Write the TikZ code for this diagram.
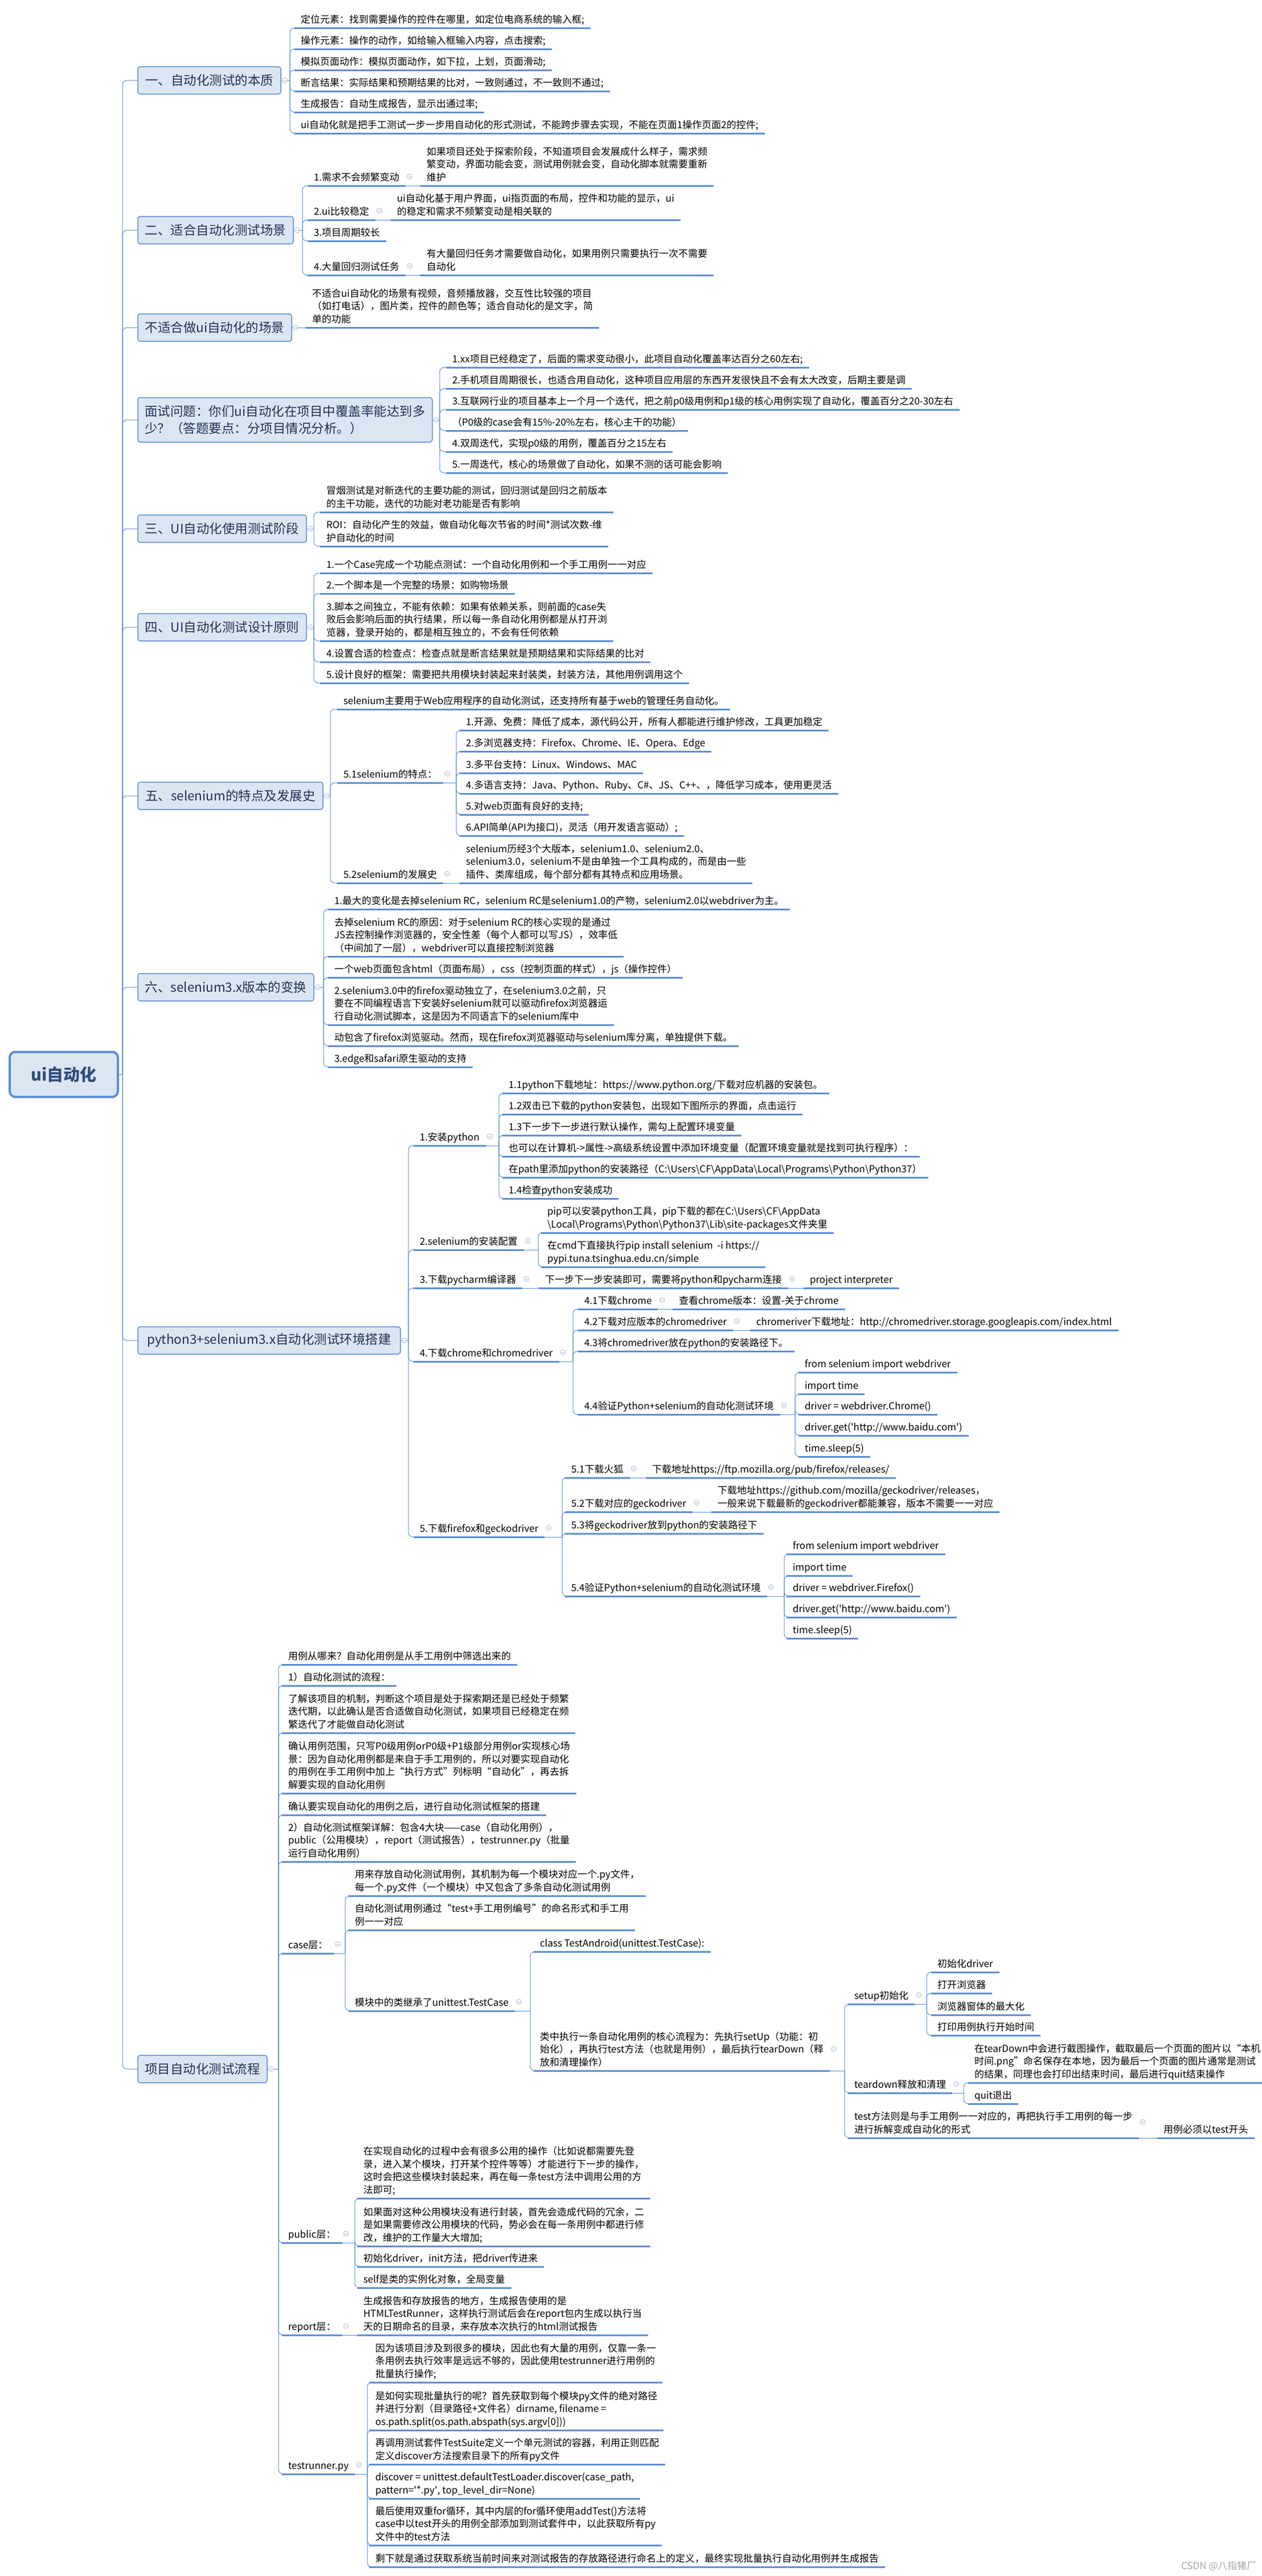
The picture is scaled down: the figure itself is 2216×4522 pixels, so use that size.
\documentclass[tikz,border=0pt]{standalone}
\usepackage{fontspec}
\setmainfont{Noto Sans CJK SC}
\usetikzlibrary{calc}
\definecolor{ulc}{HTML}{5B8ED6}
\definecolor{boxf}{HTML}{DCE6F2}
\definecolor{boxt}{HTML}{1F3256}
\definecolor{roott}{HTML}{2F4E7E}
\definecolor{togc}{HTML}{A9BCD6}
\newcommand\fsz{\fontsize{17}{22.5}\selectfont}
\newcommand\bsz{\fontsize{22.5}{30}\selectfont}
\newcommand\rsz{\fontsize{29}{34}\selectfont}
\newcommand\mybs{\textbackslash}
\newcommand\sq{\textquotesingle}
\tikzset{
 leaf/.style={anchor=south west, inner xsep=11pt, inner ysep=0pt, outer sep=0pt, align=left, text depth=9pt, font=\fsz},
 ul/.style={draw=ulc, line width=3pt},
 conn/.style={draw=ulc, line width=1pt, rounded corners=8pt},
 branch/.style={fill=boxf, draw=ulc, line width=1.5pt, rounded corners=4pt, minimum height=48pt, inner xsep=12pt, font=\bsz, text=boxt, anchor=west, align=center, outer sep=0pt},
 rootbox/.style={fill=boxf, draw=ulc, line width=4pt, rounded corners=10pt, minimum height=79pt, minimum width=190pt, font=\rsz\bfseries, text=roott, outer sep=0pt},
 tog/.style={circle, draw=togc, line width=0.8pt, minimum size=9pt, inner sep=0pt, fill=white,
   path picture={\draw[togc, line width=0.8pt] ([xshift=-2.5pt]path picture bounding box.center) -- ([xshift=2.5pt]path picture bounding box.center);}},
}
\newcommand\lf[4]{\node[leaf] (#1) at (#2,#3) {#4};\draw[ul] (#1.south west) -- (#1.south east);}
\newcommand\jn[2]{\draw[conn] (#1) |- (#2.south west);}
\newcommand\st[2]{\draw[conn] (#1.south east) -- (#2.south west);}
\newcommand\tgl[1]{\node[tog] (t#1) at ($(#1.south east)+(7,-16)$) {};}
\newcommand\bx[4]{\node[branch, minimum width=#3] (#1) at (242,#2) {#4};}
\begin{document}
\begin{tikzpicture}[x=1pt,y=-1pt]
\useasboundingbox (0,0) rectangle (2216,4522);
\fill[white] (0,0) rectangle (2216,4522);

% root
\node[rootbox] (r) at (112,1886) {ui自动化};

% branch boxes
\bx{b1}{141}{251pt}{一、自动化测试的本质}
\bx{b2}{404}{273pt}{二、适合自动化测试场景}
\bx{b3}{575}{270pt}{不适合做ui自动化的场景}
\node[branch, minimum width=517pt, minimum height=78pt, align=left] (b4) at (242,737) {面试问题：你们ui自动化在项目中覆盖率能达到多\\少？（答题要点：分项目情况分析。）};
\bx{b5}{928}{296pt}{三、UI自动化使用测试阶段}
\bx{b6}{1101}{296pt}{四、UI自动化测试设计原则}
\bx{b7}{1397}{325pt}{五、selenium的特点及发展史}
\bx{b8}{1733}{309pt}{六、selenium3.x版本的变换}
\bx{b9}{2353}{461pt}{python3+selenium3.x自动化测试环境搭建}
\bx{b10}{3632}{227pt}{项目自动化测试流程}

\coordinate (gr) at (215,1886);
\draw[conn] (r.east) -- (gr);
\foreach \b in {b1,b2,b3,b4,b5,b6,b7,b8,b9,b10} {\draw[conn] (gr) |- (\b.west);}

% ---------- B1
\lf{c11}{517}{49}{定位元素：找到需要操作的控件在哪里，如定位电商系统的输入框;}
\lf{c12}{517}{86}{操作元素：操作的动作，如给输入框输入内容，点击搜索;}
\lf{c13}{517}{123}{模拟页面动作：模拟页面动作，如下拉，上划，页面滑动;}
\lf{c14}{517}{160}{断言结果：实际结果和预期结果的比对，一致则通过，不一致则不通过;}
\lf{c15}{517}{197}{生成报告：自动生成报告，显示出通过率;}
\lf{c16}{517}{234}{ui自动化就是把手工测试一步一步用自动化的形式测试，不能跨步骤去实现，不能在页面1操作页面2的控件;}
\coordinate (g1) at (509,141);
\draw[conn] (b1.east) -- (g1);
\foreach \c in {c11,c12,c13,c14,c15,c16} {\jn{g1}{\c}}

% ---------- B2
\lf{c21}{540}{326}{1.需求不会频繁变动}
\lf{d21}{738}{326}{如果项目还处于探索阶段，不知道项目会发展成什么样子，需求频\\繁变动，界面功能会变，测试用例就会变，自动化脚本就需要重新\\维护}
\lf{c22}{540}{386}{2.ui比较稳定}
\lf{d22}{686}{386}{ui自动化基于用户界面，ui指页面的布局，控件和功能的显示，ui\\的稳定和需求不频繁变动是相关联的}
\lf{c23}{540}{423}{3.项目周期较长}
\lf{c24}{540}{483}{4.大量回归测试任务}
\lf{d24}{738}{483}{有大量回归任务才需要做自动化，如果用例只需要执行一次不需要\\自动化}
\coordinate (g2) at (531,404);
\draw[conn] (b2.east) -- (g2);
\foreach \c in {c21,c22,c23,c24} {\jn{g2}{\c}}
\st{c21}{d21}\st{c22}{d22}\st{c24}{d24}

% ---------- B3
\lf{c31}{537}{575}{不适合ui自动化的场景有视频，音频播放器，交互性比较强的项目\\（如打电话），图片类，控件的颜色等；适合自动化的是文字，简\\单的功能}
\draw[conn] (b3.east) -- (c31.south west);

% ---------- B4
\lf{c41}{783}{645}{1.xx项目已经稳定了，后面的需求变动很小，此项目自动化覆盖率达百分之60左右;}
\lf{c42}{783}{682}{2.手机项目周期很长，也适合用自动化，这种项目应用层的东西开发很快且不会有太大改变，后期主要是调}
\lf{c43}{783}{719}{3.互联网行业的项目基本上一个月一个迭代，把之前p0级用例和p1级的核心用例实现了自动化，覆盖百分之20-30左右}
\lf{c44}{783}{756}{（P0级的case会有15\%-20\%左右，核心主干的功能）}
\lf{c45}{783}{793}{4.双周迭代，实现p0级的用例，覆盖百分之15左右}
\lf{c46}{783}{830}{5.一周迭代，核心的场景做了自动化，如果不测的话可能会影响}
\coordinate (g4) at (772,737);
\draw[conn] (b4.east) -- (g4);
\foreach \c in {c41,c42,c43,c44,c45,c46} {\jn{g4}{\c}}

% ---------- B5
\lf{c51}{562}{899}{冒烟测试是对新迭代的主要功能的测试，回归测试是回归之前版本\\的主干功能，迭代的功能对老功能是否有影响}
\lf{c52}{562}{959}{ROI：自动化产生的效益，做自动化每次节省的时间*测试次数-维\\护自动化的时间}
\coordinate (g5) at (551,928);
\draw[conn] (b5.east) -- (g5);
\foreach \c in {c51,c52} {\jn{g5}{\c}}

% ---------- B6
\lf{c61}{562}{1006}{1.一个Case完成一个功能点测试：一个自动化用例和一个手工用例一一对应}
\lf{c62}{562}{1042}{2.一个脚本是一个完整的场景：如购物场景}
\lf{c63}{562}{1125}{3.脚本之间独立，不能有依赖：如果有依赖关系，则前面的case失\\败后会影响后面的执行结果，所以每一条自动化用例都是从打开浏\\览器，登录开始的，都是相互独立的，不会有任何依赖}
\lf{c64}{562}{1162}{4.设置合适的检查点：检查点就是断言结果就是预期结果和实际结果的比对}
\lf{c65}{562}{1199}{5.设计良好的框架：需要把共用模块封装起来封装类，封装方法，其他用例调用这个}
\coordinate (g6) at (551,1101);
\draw[conn] (b6.east) -- (g6);
\foreach \c in {c61,c62,c63,c64,c65} {\jn{g6}{\c}}

% ---------- B7
\lf{c71}{592}{1245}{selenium主要用于Web应用程序的自动化测试，还支持所有基于web的管理任务自动化。}
\lf{c72}{592}{1374}{5.1selenium的特点：}
\lf{c73}{592}{1550}{5.2selenium的发展史}
\coordinate (g7) at (580,1397);
\draw[conn] (b7.east) -- (g7);
\foreach \c in {c71,c72,c73} {\jn{g7}{\c}}
\lf{e1}{807}{1282}{1.开源、免费：降低了成本，源代码公开，所有人都能进行维护修改，工具更加稳定}
\lf{e2}{807}{1319}{2.多浏览器支持：Firefox、Chrome、IE、Opera、Edge}
\lf{e3}{807}{1357}{3.多平台支持：Linux、Windows、MAC}
\lf{e4}{807}{1393}{4.多语言支持：Java、Python、Ruby、C\#、JS、C++、，降低学习成本，使用更灵活}
\lf{e5}{807}{1430}{5.对web页面有良好的支持;}
\lf{e6}{807}{1467}{6.API简单(API为接口)，灵活（用开发语言驱动）;}
\coordinate (g72) at (801,1374);
\draw[conn] (c72.south east) -- (g72);
\foreach \c in {e1,e2,e3,e4,e5,e6} {\jn{g72}{\c}}
\lf{d73}{807}{1550}{selenium历经3个大版本，selenium1.0、selenium2.0、\\selenium3.0，selenium不是由单独一个工具构成的，而是由一些\\插件、类库组成，每个部分都有其特点和应用场景。}
\st{c73}{d73}

% ---------- B8
\lf{c81}{576}{1596}{1.最大的变化是去掉selenium RC，selenium RC是selenium1.0的产物，selenium2.0以webdriver为主。}
\lf{c82}{576}{1679}{去掉selenium RC的原因：对于selenium RC的核心实现的是通过\\JS去控制操作浏览器的，安全性差（每个人都可以写JS），效率低\\（中间加了一层），webdriver可以直接控制浏览器}
\lf{c83}{576}{1716}{一个web页面包含html（页面布局），css（控制页面的样式），js（操作控件）}
\lf{c84}{576}{1799}{2.selenium3.0中的firefox驱动独立了，在selenium3.0之前，只\\要在不同编程语言下安装好selenium就可以驱动firefox浏览器运\\行自动化测试脚本，这是因为不同语言下的selenium库中}
\lf{c85}{576}{1836}{动包含了firefox浏览驱动。然而，现在firefox浏览器驱动与selenium库分离，单独提供下载。}
\lf{c86}{576}{1873}{3.edge和safari原生驱动的支持}
\coordinate (g8) at (568,1733);
\draw[conn] (b8.east) -- (g8);
\foreach \c in {c81,c82,c83,c84,c85,c86} {\jn{g8}{\c}}

% ---------- B9
\lf{c91}{726}{2011}{1.安装python}
\lf{c92}{726}{2194}{2.selenium的安装配置}
\lf{c93}{726}{2261}{3.下载pycharm编译器}
\lf{c94}{726}{2390}{4.下载chrome和chromedriver}
\lf{c95}{726}{2698}{5.下载firefox和geckodriver}
\coordinate (g9) at (717,2353);
\draw[conn] (b9.east) -- (g9);
\foreach \c in {c91,c92,c93,c94,c95} {\jn{g9}{\c}}

\lf{f1}{882}{1919}{1.1python下载地址：https://www.python.org/下载对应机器的安装包。}
\lf{f2}{882}{1956}{1.2双击已下载的python安装包，出现如下图所示的界面，点击运行}
\lf{f3}{882}{1993}{1.3下一步下一步进行默认操作，需勾上配置环境变量}
\lf{f4}{882}{2030}{也可以在计算机->属性->高级系统设置中添加环境变量（配置环境变量就是找到可执行程序）：}
\lf{f5}{882}{2067}{在path里添加python的安装路径（C:\mybs{}Users\mybs{}CF\mybs{}AppData\mybs{}Local\mybs{}Programs\mybs{}Python\mybs{}Python37）}
\lf{f6}{882}{2104}{1.4检查python安装成功}
\coordinate (g91) at (876,2011);
\draw[conn] (c91.south east) -- (g91);
\foreach \c in {f1,f2,f3,f4,f5,f6} {\jn{g91}{\c}}

\lf{h21}{950}{2164}{pip可以安装python工具，pip下载的都在C:\mybs{}Users\mybs{}CF\mybs{}AppData\\\mybs{}Local\mybs{}Programs\mybs{}Python\mybs{}Python37\mybs{}Lib\mybs{}site-packages文件夹里}
\lf{h22}{950}{2224}{在cmd下直接执行pip install selenium\ \ -i https://\\pypi.tuna.tsinghua.edu.cn/simple}
\coordinate (g92) at (945,2194);
\draw[conn] (c92.south east) -- (g92);
\foreach \c in {h21,h22} {\jn{g92}{\c}}

\lf{h31}{946}{2261}{下一步下一步安装即可，需要将python和pycharm连接}
\lf{h32}{1411}{2261}{project interpreter}
\st{c93}{h31}\st{h31}{h32}

\lf{i1}{1015}{2298}{4.1下载chrome}
\lf{i2}{1015}{2335}{4.2下载对应版本的chromedriver}
\lf{i3}{1015}{2372}{4.3将chromedriver放在python的安装路径下。}
\lf{i4}{1015}{2483}{4.4验证Python+selenium的自动化测试环境}
\coordinate (g94) at (1006,2390);
\draw[conn] (c94.south east) -- (g94);
\foreach \c in {i1,i2,i3,i4} {\jn{g94}{\c}}
\lf{i1d}{1181}{2298}{查看chrome版本：设置-关于chrome}
\lf{i2d}{1317}{2335}{chromeriver下载地址：http://chromedriver.storage.googleapis.com/index.html}
\st{i1}{i1d}\st{i2}{i2d}
\lf{j1}{1402}{2409}{from selenium import webdriver}
\lf{j2}{1402}{2447}{import time}
\lf{j3}{1402}{2483}{driver = webdriver.Chrome()}
\lf{j4}{1402}{2520}{driver.get(\sq http://www.baidu.com\sq)}
\lf{j5}{1402}{2557}{time.sleep(5)}
\coordinate (g944) at (1396,2483);
\draw[conn] (i4.south east) -- (g944);
\foreach \c in {j1,j2,j3,j4,j5} {\jn{g944}{\c}}

\lf{k1}{992}{2594}{5.1下载火狐}
\lf{k2}{992}{2654}{5.2下载对应的geckodriver}
\lf{k3}{992}{2692}{5.3将geckodriver放到python的安装路径下}
\lf{k4}{992}{2802}{5.4验证Python+selenium的自动化测试环境}
\coordinate (g95) at (987,2698);
\draw[conn] (c95.south east) -- (g95);
\foreach \c in {k1,k2,k3,k4} {\jn{g95}{\c}}
\lf{k1d}{1134}{2594}{下载地址https://ftp.mozilla.org/pub/firefox/releases/}
\lf{k2d}{1249}{2654}{下载地址https://github.com/mozilla/geckodriver/releases，\\一般来说下载最新的geckodriver都能兼容，版本不需要一一对应}
\st{k1}{k1d}\st{k2}{k2d}
\lf{l1}{1381}{2728}{from selenium import webdriver}
\lf{l2}{1381}{2766}{import time}
\lf{l3}{1381}{2802}{driver = webdriver.Firefox()}
\lf{l4}{1381}{2839}{driver.get(\sq http://www.baidu.com\sq)}
\lf{l5}{1381}{2876}{time.sleep(5)}
\coordinate (g954) at (1377,2802);
\draw[conn] (k4.south east) -- (g954);
\foreach \c in {l1,l2,l3,l4,l5} {\jn{g954}{\c}}

% ---------- B10
\lf{m1}{495}{2922}{用例从哪来？自动化用例是从手工用例中筛选出来的}
\lf{m2}{495}{2959}{1）自动化测试的流程：}
\lf{m3}{495}{3042}{了解该项目的机制，判断这个项目是处于探索期还是已经处于频繁\\迭代期，以此确认是否合适做自动化测试，如果项目已经稳定在频\\繁迭代了才能做自动化测试}
\lf{m4}{495}{3148}{确认用例范围，只写P0级用例orP0级+P1级部分用例or实现核心场\\景：因为自动化用例都是来自于手工用例的，所以对要实现自动化\\的用例在手工用例中加上“执行方式”列标明“自动化”，再去拆\\解要实现的自动化用例}
\lf{m5}{495}{3186}{确认要实现自动化的用例之后，进行自动化测试框架的搭建}
\lf{m6}{495}{3268}{2）自动化测试框架详解：包含4大块——case（自动化用例），\\public（公用模块），report（测试报告），testrunner.py（批量\\运行自动化用例）}
\lf{m7}{495}{3429}{case层：}
\lf{m8}{495}{3937}{public层：}
\lf{m9}{495}{4099}{report层：}
\lf{m10}{495}{4343}{testrunner.py}
\coordinate (g10) at (489,3632);
\draw[conn] (b10.east) -- (g10);
\foreach \c in {m1,m2,m3,m4,m5,m6,m7,m8,m9,m10} {\jn{g10}{\c}}

\lf{n1}{612}{3328}{用来存放自动化测试用例，其机制为每一个模块对应一个.py文件，\\每一个.py文件（一个模块）中又包含了多条自动化测试用例}
\lf{n2}{612}{3388}{自动化测试用例通过“test+手工用例编号”的命名形式和手工用\\例一一对应}
\lf{n3}{612}{3530}{模块中的类继承了unittest.TestCase}
\coordinate (g107) at (606,3429);
\draw[conn] (m7.south east) -- (g107);
\foreach \c in {n1,n2,n3} {\jn{g107}{\c}}

\lf{o1}{937}{3426}{class TestAndroid(unittest.TestCase):}
\lf{o2}{937}{3635}{类中执行一条自动化用例的核心流程为：先执行setUp（功能：初\\始化），再执行test方法（也就是用例），最后执行tearDown（释\\放和清理操作）}
\coordinate (gn3) at (931,3530);
\draw[conn] (n3.south east) -- (gn3);
\foreach \c in {o1,o2} {\jn{gn3}{\c}}

\lf{p1}{1489}{3518}{setup初始化}
\lf{p2}{1489}{3674}{teardown释放和清理}
\lf{p3}{1489}{3753}{test方法则是与手工用例一一对应的，再把执行手工用例的每一步\\进行拆解变成自动化的形式}
\coordinate (go2) at (1483,3635);
\draw[conn] (o2.south east) -- (go2);
\foreach \c in {p1,p2,p3} {\jn{go2}{\c}}

\lf{q1}{1635}{3462}{初始化driver}
\lf{q2}{1635}{3499}{打开浏览器}
\lf{q3}{1635}{3537}{浏览器窗体的最大化}
\lf{q4}{1635}{3573}{打印用例执行开始时间}
\coordinate (gp1) at (1627,3518);
\draw[conn] (p1.south east) -- (gp1);
\foreach \c in {q1,q2,q3,q4} {\jn{gp1}{\c}}

\lf{r1}{1700}{3656}{在tearDown中会进行截图操作，截取最后一个页面的图片以“本机\\时间.png”命名保存在本地，因为最后一个页面的图片通常是测试\\的结果，同理也会打印出结束时间，最后进行quit结束操作}
\lf{r2}{1700}{3693}{quit退出}
\coordinate (gp2) at (1692,3674);
\draw[conn] (p2.south east) -- (gp2);
\foreach \c in {r1,r2} {\jn{gp2}{\c}}

\lf{s1}{2032}{3753}{用例必须以test开头}
\st{p3}{s1}

\lf{t1}{627}{3859}{在实现自动化的过程中会有很多公用的操作（比如说都需要先登\\录，进入某个模块，打开某个控件等等）才能进行下一步的操作，\\这时会把这些模块封装起来，再在每一条test方法中调用公用的方\\法即可;}
\lf{t2}{627}{3943}{如果面对这种公用模块没有进行封装，首先会造成代码的冗余，二\\是如果需要修改公用模块的代码，势必会在每一条用例中都进行修\\改，维护的工作量大大增加;}
\lf{t3}{627}{3979}{初始化driver，init方法，把driver传进来}
\lf{t4}{627}{4016}{self是类的实例化对象，全局变量}
\coordinate (gm8) at (623,3937);
\draw[conn] (m8.south east) -- (gm8);
\foreach \c in {t1,t2,t3,t4} {\jn{gm8}{\c}}

\lf{u1}{627}{4099}{生成报告和存放报告的地方，生成报告使用的是\\HTMLTestRunner，这样执行测试后会在report包内生成以执行当\\天的日期命名的目录，来存放本次执行的html测试报告}
\st{m9}{u1}

\lf{v1}{648}{4182}{因为该项目涉及到很多的模块，因此也有大量的用例，仅靠一条一\\条用例去执行效率是远远不够的，因此使用testrunner进行用例的\\批量执行操作;}
\lf{v2}{648}{4266}{是如何实现批量执行的呢？首先获取到每个模块py文件的绝对路径\\并进行分割（目录路径+文件名）dirname, filename =\\os.path.split(os.path.abspath(sys.argv[0]))}
\lf{v3}{648}{4326}{再调用测试套件TestSuite定义一个单元测试的容器，利用正则匹配\\定义discover方法搜索目录下的所有py文件}
\lf{v4}{648}{4386}{discover = unittest.defaultTestLoader.discover(case\_path,\\pattern=\sq*.py\sq, top\_level\_dir=None)}
\lf{v5}{648}{4468}{最后使用双重for循环，其中内层的for循环使用addTest()方法将\\case中以test开头的用例全部添加到测试套件中，以此获取所有py\\文件中的test方法}
\lf{v6}{648}{4506}{剩下就是通过获取系统当前时间来对测试报告的存放路径进行命名上的定义，最终实现批量执行自动化用例并生成报告}
\coordinate (gm10) at (645,4343);
\draw[conn] (m10.south east) -- (gm10);
\foreach \c in {v1,v2,v3,v4,v5,v6} {\jn{gm10}{\c}}

% toggles
\foreach \p in {c21,c22,c24,c72,c73,c91,c92,c93,h31,c94,i1,i2,i4,c95,k1,k2,k4,m7,n3,p1,p2,m8,m9,m10} {\tgl{\p}}
\node[tog] (to2) at ($(o2.south east)+(7,-38)$) {};
\node[tog] (tp3) at ($(p3.south east)+(7,-28)$) {};
\foreach \b in {b1,b2,b3,b4,b5,b6,b7,b8,b9,b10} {\node[tog] (t\b) at ($(\b.east)+(7,0)$) {};}

% watermark
\node[anchor=east, text=gray!70, font=\fsz] (wm) at (2210,4505) {CSDN @八指猪厂};
\end{tikzpicture}
\end{document}
